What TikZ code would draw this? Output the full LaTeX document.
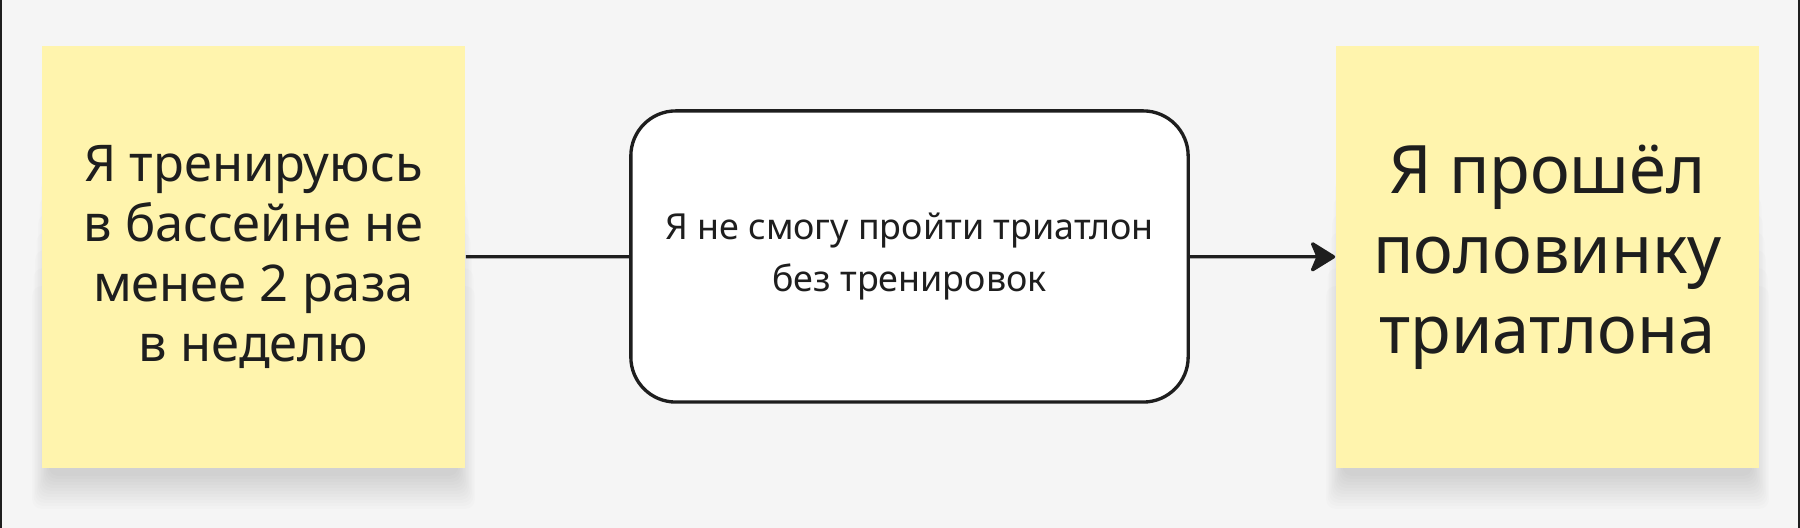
\documentclass[tikz,border=0pt]{standalone}
\usepackage{fontspec}
\setmainfont{Noto Sans}
\usetikzlibrary{arrows.meta}
\definecolor{canvas}{HTML}{F5F5F5}
\definecolor{sticky}{HTML}{FFF4AD}
\definecolor{ink}{HTML}{1E1E1E}

\begin{document}
\begin{tikzpicture}[x=0.01cm, y=0.01cm,
    stickynote/.style={fill=sticky, minimum width=4.23cm, minimum height=4.22cm, inner sep=0pt, align=center, text=ink},
    thoughtbox/.style={draw=ink, line width=0.95pt, fill=white, rounded corners=0.45cm, minimum width=5.57cm, minimum height=2.91cm,
      inner sep=0pt, align=center, text=ink, font=\fontsize{10.2}{14.8}\selectfont},
    link/.style={draw=ink, line width=0.95pt}]
      \useasboundingbox (0,0) rectangle (1800,528);
      \fill[canvas] (0,0) rectangle (1800,528);
      \draw[ink, line width=0.57pt] (1,0) -- (1,528);
      \draw[ink, line width=0.57pt] (1799,0) -- (1799,528);
      % soft shadows under the notes
      \foreach \cx in {253.5,1547.5}
        \foreach \s in {0,3,...,33}
          \fill[black, opacity=0.013, rounded corners=0.1cm] (\cx-205-0.5*\s, 52-\s) rectangle (\cx+205+0.5*\s, 440-6*\s);
      % notes and the thought between them
      \node[stickynote, font=\fontsize{14.4}{17.1}\selectfont] (habit) at (253.5,271) {Я тренируюсь\\в бассейне не\\менее 2 раза\\в неделю};
      \node[thoughtbox] (belief) at (909.5,271.5) {Я не смогу пройти триатлон\\без тренировок};
      \node[stickynote, font=\fontsize{19}{22.8}\selectfont] (result) at (1547.5,271) {Я прошёл\\половинку\\триатлона};
      \draw[link] (habit) -- (belief);
      \draw[link, -{Stealth[length=7.8pt, width=9.6pt, inset=2pt, round]}] (belief) -- (result);
    \end{tikzpicture}
\end{document}
